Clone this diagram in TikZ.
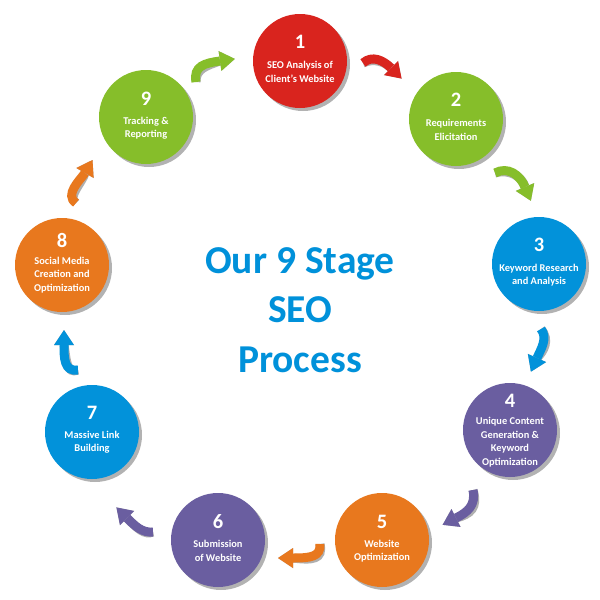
\documentclass[tikz,border=0pt]{standalone}
\usepackage{fontspec}
\setmainfont{Carlito}
\usetikzlibrary{calc,shadows}
\definecolor{cred}{RGB}{217,36,30}
\definecolor{cgreen}{RGB}{134,190,42}
\definecolor{cblue}{RGB}{2,146,218}
\definecolor{cpurple}{RGB}{106,94,160}
\definecolor{corange}{RGB}{232,120,30}
\definecolor{ctitle}{RGB}{0,145,218}
\definecolor{cshadow}{RGB}{175,175,175}
\tikzset{
  stage/.style={circle,minimum size=94pt,inner sep=0pt,fill=#1,
    drop shadow={shadow xshift=3pt,shadow yshift=-3pt,fill=black,opacity=0.3}},
  stagenum/.style={text=white,font=\bfseries\fontsize{20.5}{22}\selectfont,inner sep=0pt},
  stagelabel/.style={text=white,align=center,font=\bfseries\fontsize{10.4}{13.5}\selectfont,inner sep=0pt},
  titletext/.style={text=ctitle,font=\bfseries\fontsize{39.5}{48}\selectfont,inner sep=0pt,anchor=base}
}
% #1 colour, #2 tail, #3 control 1, #4 control 2, #5 head base, #6 head angle
\newcommand\bentarrow[6]{%
  \begin{scope}[shift={(2.5,2.5)}]
    \draw[line width=9pt,cshadow] (#2) .. controls (#3) and (#4) .. (#5);
    \fill[cshadow] ($(#5)+(#6+90:10)$) -- ($(#5)+(#6:15)$) -- ($(#5)+(#6-90:10)$) -- cycle;
  \end{scope}
  \draw[line width=9pt,#1] (#2) .. controls (#3) and (#4) .. (#5);
  \fill[#1] ($(#5)+(#6+90:10)$) -- ($(#5)+(#6:15)$) -- ($(#5)+(#6-90:10)$) -- cycle;
}
\begin{document}
\begin{tikzpicture}[x=1pt,y=-1pt]
\useasboundingbox (0,0) rectangle (600,600);
\fill[white] (0,0) rectangle (600,600);

% title
\node[titletext] (t1) at (300,273) {Our 9 Stage};
\node[titletext] (t2) at (300,322) {SEO};
\node[titletext] (t3) at (300,372) {Process};

% arrows
\coordinate (a91t) at (196,82);  \coordinate (a91b) at (220,61);
\coordinate (a12t) at (363,63);  \coordinate (a12b) at (391,68);
\coordinate (a23t) at (495,173); \coordinate (a23b) at (525,187);
\coordinate (a34t) at (541,329); \coordinate (a34b) at (537,358);
\coordinate (a45t) at (473,490); \coordinate (a45b) at (456,518);
\coordinate (a56t) at (320,544); \coordinate (a56b) at (293,558);
\coordinate (a67t) at (153,532); \coordinate (a67b) at (127,518);
\coordinate (a78t) at (78,370);  \coordinate (a78b) at (64,345);
\coordinate (a89t) at (76,203);  \coordinate (a89b) at (85,173);

\bentarrow{cgreen}{a91t}{193,66}{205,63}{a91b}{-8}
\bentarrow{cred}{a12t}{372,55}{383,60}{a12b}{45}
\bentarrow{cgreen}{a23t}{508,166}{520,175}{a23b}{67}
\bentarrow{cblue}{a34t}{548,338}{541,349}{a34b}{114}
\bentarrow{cpurple}{a45t}{476,505}{468,512}{a45b}{153}
\bentarrow{corange}{a56t}{321,557}{310,558}{a56b}{180}
\bentarrow{cpurple}{a67t}{142,533}{135,526}{a67b}{225}
\bentarrow{cblue}{a78t}{64,372}{64,358}{a78b}{-90}
\bentarrow{corange}{a89t}{64,195}{80,180}{a89b}{-60}

% stages
\node[stage=cred]    (c1) at (300,61)  {};
\node[stage=cgreen]  (c2) at (456,119) {};
\node[stage=cblue]   (c3) at (539,264) {};
\node[stage=cpurple] (c4) at (510,430) {};
\node[stage=corange] (c5) at (382,540) {};
\node[stage=cpurple] (c6) at (218,540) {};
\node[stage=cblue]   (c7) at (92,432)  {};
\node[stage=corange] (c8) at (62,265)  {};
\node[stage=cgreen]  (c9) at (146,117) {};

\node[stagenum] (n1) at ($(c1)+(0,-19)$) {1};
\node[stagelabel] (l1) at ($(c1)+(0,11)$) {SEO Analysis of\\Client’s Website};
\node[stagenum] (n2) at ($(c2)+(0,-19)$) {2};
\node[stagelabel] (l2) at ($(c2)+(0,11)$) {Requirements\\Elicitation};
\node[stagenum] (n3) at ($(c3)+(0,-19)$) {3};
\node[stagelabel] (l3) at ($(c3)+(0,11)$) {Keyword Research\\and Analysis};
\node[stagenum] (n4) at ($(c4)+(0,-29)$) {4};
\node[stagelabel] (l4) at ($(c4)+(0,12)$) {Unique Content\\Generation \&\\Keyword\\Optimization};
\node[stagenum] (n5) at ($(c5)+(0,-18)$) {5};
\node[stagelabel] (l5) at ($(c5)+(0,11)$) {Website\\Optimization};
\node[stagenum] (n6) at ($(c6)+(0,-18)$) {6};
\node[stagelabel] (l6) at ($(c6)+(0,11)$) {Submission\\of Website};
\node[stagenum] (n7) at ($(c7)+(0,-19)$) {7};
\node[stagelabel] (l7) at ($(c7)+(0,10)$) {Massive Link\\Building};
\node[stagenum] (n8) at ($(c8)+(0,-25)$) {8};
\node[stagelabel] (l8) at ($(c8)+(0,10)$) {Social Media\\Creation and\\Optimization};
\node[stagenum] (n9) at ($(c9)+(0,-18)$) {9};
\node[stagelabel] (l9) at ($(c9)+(0,11)$) {Tracking \&\\Reporting};
\end{tikzpicture}
\end{document}
